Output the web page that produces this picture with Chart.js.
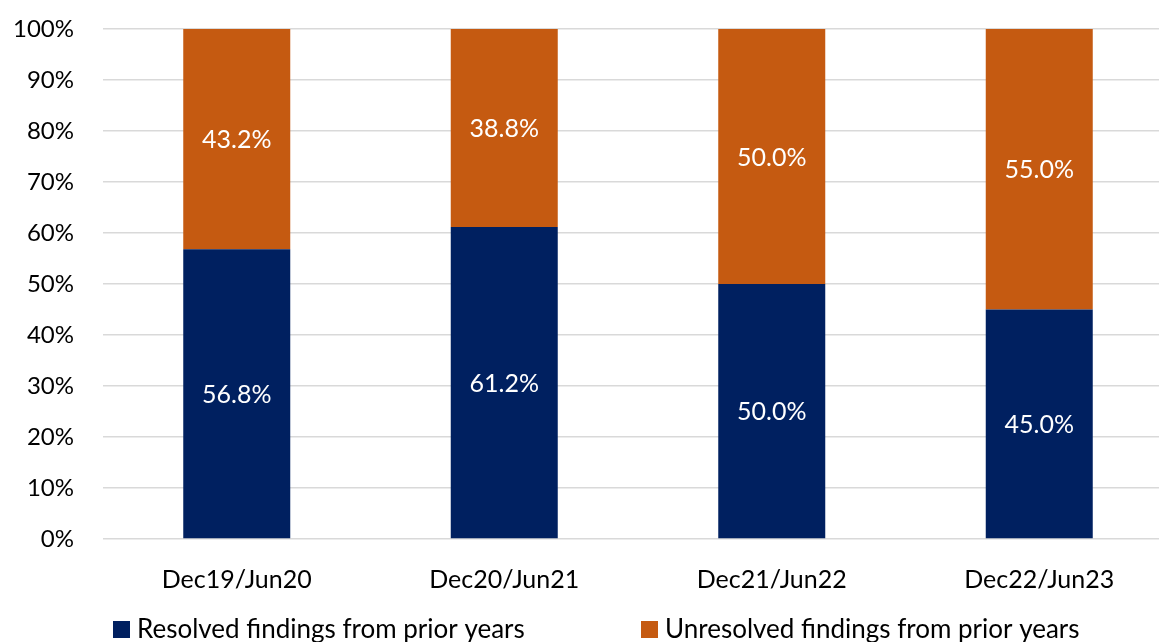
<!DOCTYPE html>
<html>
<head>
<meta charset="utf-8">
<script src="https://cdn.jsdelivr.net/npm/chart.js@4.4.0/dist/chart.umd.min.js"></script>
<style>
  html, body { margin: 0; padding: 0; overflow: hidden; background: #fff; }
  #wrap { width: 1175px; height: 642px; position: relative; }
</style>
</head>
<body>
<div id="wrap"><canvas id="myChart"></canvas></div>
<script>
// data
var categories = ['Dec19/Jun20', 'Dec20/Jun21', 'Dec21/Jun22', 'Dec22/Jun23'];
var resolved = [56.8, 61.2, 50.0, 45.0];
var unresolved = [43.2, 38.8, 50.0, 55.0];
var seriesNames = ['Resolved findings from prior years', 'Unresolved findings from prior years'];
var yMin = 0, yMax = 100, yStep = 10;

var NAVY = '#002060';
var ORANGE = '#C55A11';
var FONT = 'Lato, "Noto Sans", sans-serif';

// white value labels in the middle of each segment
var valueLabels = {
  id: 'valueLabels',
  afterDatasetsDraw: function(chart) {
    var ctx = chart.ctx;
    ctx.save();
    ctx.fillStyle = '#fff';
    ctx.font = '25px ' + FONT;
    ctx.textAlign = 'center';
    ctx.textBaseline = 'middle';
    chart.data.datasets.forEach(function(ds, i) {
      chart.getDatasetMeta(i).data.forEach(function(bar, j) {
        var y = (bar.y + bar.base) / 2;
        ctx.fillText(ds.data[j].toFixed(1) + '%', bar.x, y + 1);
      });
    });
    ctx.restore();
  }
};

// legend drawn by hand so the two entries sit apart like the original
var bottomLegend = {
  id: 'bottomLegend',
  afterDraw: function(chart) {
    var ctx = chart.ctx;
    var starts = [113, 641];
    var yc = 629;
    ctx.save();
    ctx.font = '26px ' + FONT;
    ctx.textBaseline = 'middle';
    ctx.textAlign = 'left';
    chart.data.datasets.forEach(function(ds, i) {
      ctx.fillStyle = ds.backgroundColor;
      ctx.fillRect(starts[i], yc - 8, 17, 17);
      ctx.fillStyle = '#000';
      ctx.fillText(ds.label, starts[i] + 24, yc + 1);
    });
    ctx.restore();
  }
};

var ctx = document.getElementById('myChart').getContext('2d');
var chart = new Chart(ctx, {
  type: 'bar',
  data: {
    labels: categories,
    datasets: [{
      label: seriesNames[0],
      data: resolved,
      backgroundColor: NAVY,
      barPercentage: 0.4,
      categoryPercentage: 1.0
    }, {
      label: seriesNames[1],
      data: unresolved,
      backgroundColor: ORANGE,
      barPercentage: 0.4,
      categoryPercentage: 1.0
    }]
  },
  options: {
    responsive: true,
    maintainAspectRatio: false,
    animation: false,
    layout: { padding: { top: 29, right: 2, left: 0, bottom: 0 } },
    plugins: {
      legend: { display: false },
      tooltip: { enabled: false }
    },
    scales: {
      x: {
        stacked: true,
        grid: { display: false },
        border: { display: false },
        ticks: { color: '#000', font: { family: FONT, size: 25 }, padding: 18, maxRotation: 0 },
        afterFit: function(scale) { scale.height = 103; }
      },
      y: {
        stacked: true,
        min: yMin,
        max: yMax,
        grid: { color: '#d9d9d9', lineWidth: 1.5, drawTicks: false },
        border: { display: false },
        ticks: {
          stepSize: yStep,
          color: '#000',
          font: { family: FONT, size: 24 },
          padding: 29,
          callback: function(v) { return v + '%'; }
        },
        afterFit: function(scale) {
          scale.width = 103;
          scale.paddingTop = 0;
          scale.paddingBottom = 0;
        }
      }
    }
  },
  plugins: [valueLabels, bottomLegend]
});
</script>
</body>
</html>
